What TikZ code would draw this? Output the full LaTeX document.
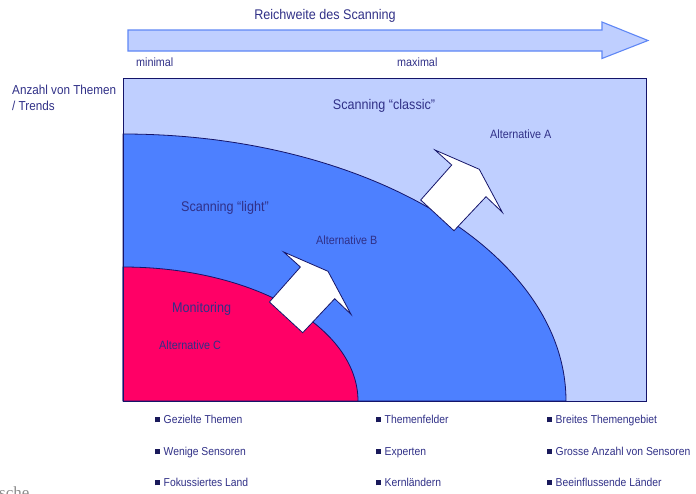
\documentclass[tikz,border=0pt]{standalone}
\usepackage{fontspec}
\setmainfont[FakeStretch=0.9]{Liberation Sans}
\newfontfamily\fragserif{Liberation Serif}
\definecolor{paleblue}{RGB}{191,207,255}
\definecolor{midblue}{RGB}{77,128,255}
\definecolor{hotpink}{RGB}{255,0,102}
\definecolor{navy}{RGB}{20,20,105}
\definecolor{labelblue}{RGB}{48,48,135}
\definecolor{arrowedge}{RGB}{95,135,245}
\definecolor{bulletcol}{RGB}{25,25,90}
\newcommand\sqbullet{{\color{bulletcol}\rule[0.6pt]{5pt}{5pt}}\hspace{3.5pt}}
\tikzset{
  lbl/.style={text=labelblue, inner sep=0pt, font=\fontsize{12}{14}\selectfont},
  biglbl/.style={lbl, font=\fontsize{14}{16}\selectfont},
  item/.style={lbl, anchor=base west, font=\fontsize{11.5}{13}\selectfont},
  zoneline/.style={draw=navy, line width=0.8pt},
  blockarrow/.style={fill=white, draw=navy, line width=0.8pt, line join=miter},
  pics/diagarrow/.style={code={
    \path[blockarrow] (-19,-80.7) -- (25.3,-61.4) -- (48.3,-18.4) -- (32,-34)
      -- (0,0) -- (-33.3,-30.7) -- (-2.3,-65.7) -- cycle;
  }}
}
\begin{document}
\begin{tikzpicture}[x=1pt, y=-1pt]
\useasboundingbox (0,0) rectangle (696,493);
\clip (0,0) rectangle (696,493);

% scope arrow along the top
\path[fill=paleblue, draw=arrowedge, line width=1.1pt, line join=miter]
  (128,30) -- (602,30) -- (602,22) -- (648,40.5) -- (602,58.5) -- (602,51)
  -- (128,51) -- cycle;
\node[biglbl] (reach) at (325,16) {Reichweite des Scanning};
\node[lbl, anchor=west] (minlbl) at (136,62) {minimal};
\node[lbl, anchor=west] (maxlbl) at (397,62) {maximal};

% vertical axis caption
\node[lbl, anchor=north west, align=left, font=\fontsize{13}{15.5}\selectfont]
  (themes) at (12,85) {Anzahl von Themen\\/ Trends};

% nested zones (y axis points down, so the arcs run from -90 to 0 degrees)
\fill[paleblue] (123,78) rectangle (646,401);
\path[fill=midblue, zoneline] (123,401) -- (123,134)
  arc[start angle=-90, end angle=0, x radius=443, y radius=267] -- cycle;
\path[fill=hotpink, zoneline] (123,401) -- (123,267)
  arc[start angle=-90, end angle=0, x radius=235, y radius=134] -- cycle;
\draw[navy, line width=1pt] (123,78) rectangle (646,401);

% growth arrows between the zones
\pic (arrowB) at (302.7,332.7) {diagarrow};
\pic (arrowA) at (454,230.7) {diagarrow};

% zone labels
\node[biglbl] (classic) at (384,106) {Scanning \char"201Cclassic\char"201D};
\node[lbl, anchor=west] (altA) at (490,134) {Alternative A};
\node[biglbl, anchor=west] (light) at (181,208) {Scanning \char"201Clight\char"201D};
\node[lbl, anchor=west] (altB) at (316,240) {Alternative B};
\node[biglbl, anchor=west] (monit) at (172,309) {Monitoring};
\node[lbl, anchor=west] (altC) at (159,345) {Alternative C};

% characteristics below each zone
\node[item] (c1a) at (155,423) {\sqbullet Gezielte Themen};
\node[item] (c1b) at (155,455) {\sqbullet Wenige Sensoren};
\node[item] (c1c) at (155,486) {\sqbullet Fokussiertes Land};
\node[item] (c2a) at (376,423) {\sqbullet Themenfelder};
\node[item] (c2b) at (376,455) {\sqbullet Experten};
\node[item] (c2c) at (376,486) {\sqbullet Kernländern};
\node[item] (c3a) at (547,423) {\sqbullet Breites Themengebiet};
\node[item] (c3b) at (547,455) {\sqbullet Grosse Anzahl von Sensoren};
\node[item] (c3c) at (547,486) {\sqbullet Beeinflussende Länder};

% footer fragment at the lower edge
\node[anchor=base west, inner sep=0pt, text=black!45,
  font=\fragserif\fontsize{17}{17}\selectfont] (footer) at (-1,498) {sche};
\end{tikzpicture}
\end{document}
